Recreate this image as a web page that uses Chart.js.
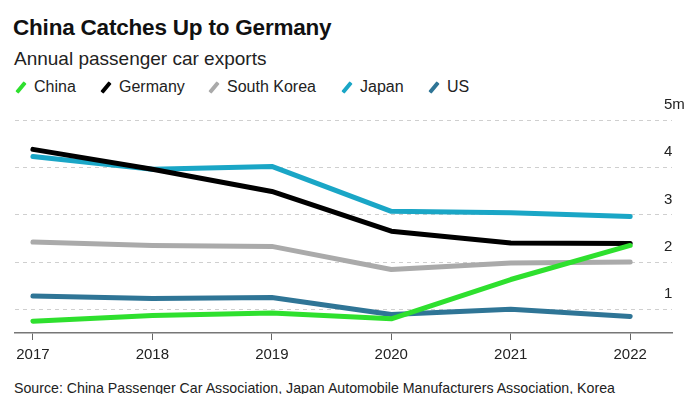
<!DOCTYPE html>
<html>
<head>
<meta charset="utf-8">
<script src="https://cdn.jsdelivr.net/npm/chart.js@4/dist/chart.umd.min.js"></script>
<style>
  body { margin: 0; background: #fff; font-family: "Liberation Sans", Arial, sans-serif; }
  #wrap { position: relative; width: 700px; height: 394px; overflow: hidden; }
  #title { position: absolute; left: 13px; top: 15px; font-size: 22.5px; font-weight: bold; color: #111; letter-spacing: -0.2px; }
  #sub { position: absolute; left: 14px; top: 48px; font-size: 19px; color: #222; }
  #legend { position: absolute; left: 14px; top: 78px; font-size: 16px; color: #222; }
  .item { position: absolute; top: 0; white-space: nowrap; }
  .mark { position: absolute; top: 3px; width: 4px; height: 13px; transform: rotate(40deg); border-radius: 1px; }
  .item span.t { position: absolute; top: 0; left: 20px; }
  #chartBox { position: absolute; left: 0; top: 95px; width: 700px; height: 280px; }
  #src { position: absolute; left: 14px; top: 380px; font-size: 14.2px; color: #222; white-space: nowrap; }
</style>
</head>
<body>
<div id="wrap">
  <div id="title">China Catches Up to Germany</div>
  <div id="sub">Annual passenger car exports</div>
  <div id="legend"></div>
  <div id="chartBox"><canvas id="myChart" width="700" height="280"></canvas></div>
  <div id="src">Source: China Passenger Car Association, Japan Automobile Manufacturers Association, Korea</div>
</div>
<script>
const years = [2017, 2018, 2019, 2020, 2021, 2022];
const china = [0.75, 0.87, 0.92, 0.80, 1.63, 2.35];
const germany = [4.38, 3.96, 3.49, 2.65, 2.40, 2.39];
const southKorea = [2.42, 2.35, 2.33, 1.84, 1.98, 2.00];
const japan = [4.23, 3.96, 4.02, 3.07, 3.04, 2.96];
const us = [1.28, 1.23, 1.25, 0.89, 1.00, 0.85];
const yTicks = [1, 2, 3, 4, 5];

const series = [
  { label: 'China', data: china, color: '#2ee02e' },
  { label: 'Germany', data: germany, color: '#000000' },
  { label: 'South Korea', data: southKorea, color: '#aaaaaa' },
  { label: 'Japan', data: japan, color: '#1aa6c6' },
  { label: 'US', data: us, color: '#2f7596' },
];

// legend in html, slanted strokes like the original
const legendX = [0, 85, 193, 326, 413];
const legend = document.getElementById('legend');
series.forEach((s, i) => {
  const el = document.createElement('div');
  el.className = 'item';
  el.style.left = legendX[i] + 'px';
  el.innerHTML = '<div class="mark" style="left:5px;background:' + s.color + '"></div><span class="t">' + s.label + '</span>';
  legend.appendChild(el);
});

Chart.defaults.color = '#222';
Chart.defaults.font.family = '"Liberation Sans", Arial, sans-serif';
Chart.defaults.font.size = 15;

const ctx = document.getElementById('myChart');

new Chart(ctx, {
  type: 'line',
  data: {
    datasets: series.map(s => ({
      label: s.label,
      data: years.map((y, i) => ({ x: y, y: s.data[i] })),
      borderColor: s.color,
      backgroundColor: s.color,
      borderWidth: 5,
      pointRadius: 0,
      tension: 0,
      borderCapStyle: 'round',
      borderJoinStyle: 'round',
    })),
  },
  options: {
    responsive: false,
    animation: false,
    layout: { padding: { top: 25, left: 15, right: 0, bottom: 0 } },
    scales: {
      x: {
        type: 'linear',
        min: 2016.85,
        max: 2022.35,
        afterBuildTicks: axis => { axis.ticks = years.map(v => ({ value: v })); },
        afterFit: axis => { axis.height = 42; },
        grid: {
          drawOnChartArea: false,
          drawTicks: true,
          tickLength: 7,
          color: '#666',
          lineWidth: 1,
        },
        border: { display: true, color: '#777', width: 1.5 },
        ticks: {
          padding: 6,
          color: '#222',
          callback: v => String(v),
          maxRotation: 0,
        },
      },
      y: {
        position: 'right',
        min: 0.5,
        max: 5,
        afterBuildTicks: axis => { axis.ticks = yTicks.map(v => ({ value: v })); },
        afterFit: axis => {
          axis.width = 28;
          // labels sit a bit left of the axis edge, don't clip them
          axis._computeLabelArea = () => undefined;
        },
        grid: {
          drawTicks: false,
          color: '#cfcfcf',
          lineWidth: 1,
        },
        border: { display: false, dash: [4, 4] },
        ticks: {
          padding: -8,
          labelOffset: -15,
          color: '#222',
          callback: v => v === 5 ? '5m' : String(v),
        },
      },
    },
    plugins: {
      tooltip: { enabled: false },
      legend: { display: false },
    },
  },
});
</script>
</body>
</html>
